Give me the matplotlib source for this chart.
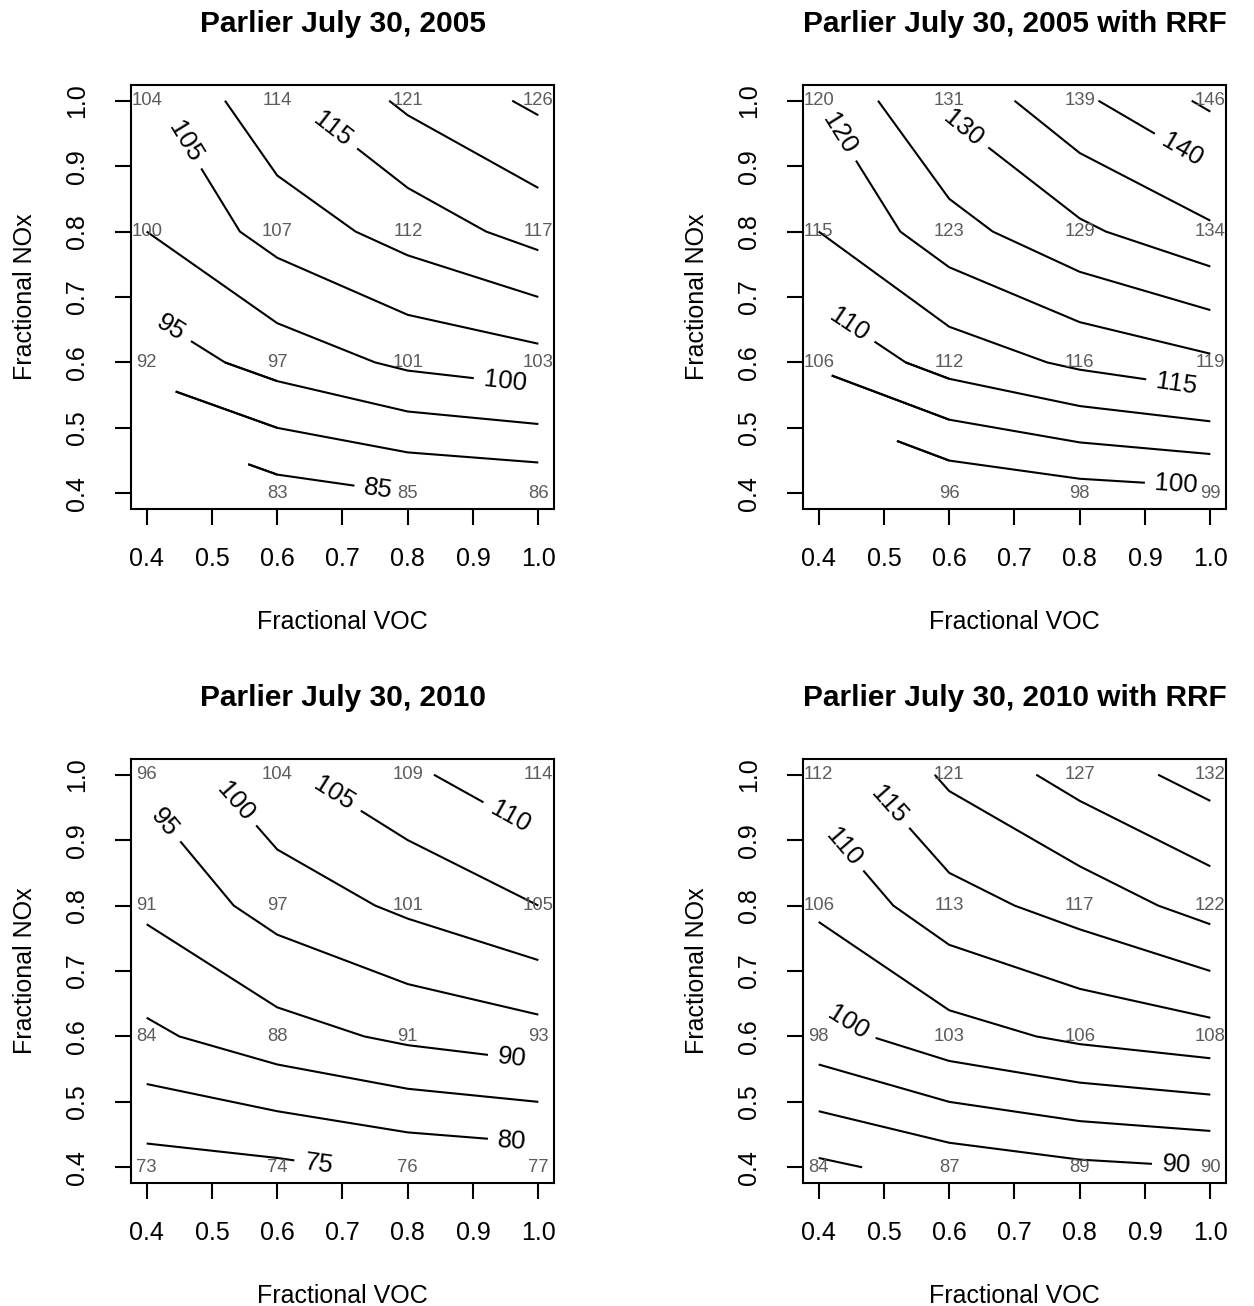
import numpy as np
import matplotlib
matplotlib.use("Agg")
import matplotlib.pyplot as plt
import matplotlib.tri as mtri
from matplotlib.path import Path

plt.rcParams['font.family'] = ['Liberation Sans', 'DejaVu Sans']

# grid
voc = [0.4, 0.6, 0.8, 1.0]
nox = [0.4, 0.6, 0.8, 1.0]

# values: rows = NOx (0.4 .. 1.0), cols = VOC (0.4 .. 1.0); nan = missing
z2005 = [[np.nan, 83, 85, 86],
         [92, 97, 101, 103],
         [100, 107, 112, 117],
         [104, 114, 121, 126]]
z2005_rrf = [[np.nan, 96, 98, 99],
             [106, 112, 116, 119],
             [115, 123, 129, 134],
             [120, 131, 139, 146]]
z2010 = [[73, 74, 76, 77],
         [84, 88, 91, 93],
         [91, 97, 101, 105],
         [96, 104, 109, 114]]
z2010_rrf = [[84, 87, 89, 90],
             [98, 103, 106, 108],
             [106, 113, 117, 122],
             [112, 121, 127, 132]]

titles = ["Parlier July 30, 2005", "Parlier July 30, 2005 with RRF",
          "Parlier July 30, 2010", "Parlier July 30, 2010 with RRF"]

levels_list = [list(range(85, 130, 5)), list(range(100, 150, 5)),
               list(range(75, 115, 5)), list(range(85, 135, 5))]

# labeled contour levels and approximate label positions
label_pos = [{105: (0.446, 0.93), 115: (0.673, 0.94), 95: (0.436, 0.652),
              100: (0.949, 0.569), 85: (0.755, 0.405)},
             {120: (0.428, 0.947), 130: (0.627, 0.965), 140: (0.956, 0.924),
              110: (0.444, 0.654), 115: (0.948, 0.566), 100: (0.948, 0.413)},
             {95: (0.428, 0.927), 100: (0.535, 0.958), 105: (0.686, 0.969),
              110: (0.957, 0.935), 90: (0.96, 0.568), 80: (0.96, 0.441),
              75: (0.663, 0.404)},
             {115: (0.501, 0.948), 110: (0.432, 0.884), 100: (0.452, 0.632),
              90: (0.948, 0.406)}]

data = [z2005, z2005_rrf, z2010, z2010_rrf]

W, H = 1254, 1306
fig = plt.figure(figsize=(W / 100, H / 100), dpi=100)

lefts = [131, 803, 131, 803]
tops = [85, 85, 759, 759]
aw, ah = 423, 424


def remove_stubs(ax, cs, minlen=30):
    paths = cs.get_paths()
    for k, p in enumerate(paths):
        if len(p.vertices) == 0:
            continue
        polys = p.to_polygons(closed_only=False)
        kept = []
        for poly in polys:
            d = ax.transData.transform(poly)
            length = np.sum(np.hypot(*np.diff(d, axis=0).T))
            if length >= minlen:
                kept.append(poly)
        if kept:
            paths[k] = Path.make_compound_path(*[Path(q) for q in kept])
        else:
            paths[k] = Path(np.zeros((0, 2)))


for i in range(4):
    ax = fig.add_axes([lefts[i] / W, 1 - (tops[i] + ah) / H, aw / W, ah / H])
    ax.set_xlim(0.376, 1.024)
    ax.set_ylim(0.376, 1.024)
    Z = np.array(data[i], dtype=float)
    X, Y = np.meshgrid(voc, nox)
    Zm = np.ma.masked_invalid(Z)
    for L in levels_list[i]:
        cs = ax.contour(X, Y, Zm, levels=[L], colors='black', linewidths=1.5)
        if L in label_pos[i]:
            cs.clabel([L], manual=[label_pos[i][L]], inline=True,
                      inline_spacing=10, fontsize=18.5, fmt='%d', colors='black')
            remove_stubs(ax, cs)
    # handle missing corner: triangle of the cell that has no missing value
    if np.isnan(Z[0, 0]):
        tri = mtri.Triangulation([voc[1], voc[1], voc[0]], [nox[0], nox[1], nox[1]], [[0, 1, 2]])
        zt = [Z[0, 1], Z[1, 1], Z[1, 0]]
        ax.tricontour(tri, zt, levels=levels_list[i], colors='black', linewidths=1.5)
    # grid values
    for r, yv in enumerate(nox):
        for c_, xv in enumerate(voc):
            v = Z[r, c_]
            if not np.isnan(v):
                ax.text(xv, yv, f"{int(v)}", ha='center', va='center',
                        fontsize=13.3, color='#5c5c5c')
    ax.set_xlim(0.376, 1.024)
    ax.set_ylim(0.376, 1.024)
    ax.set_xticks([0.4, 0.5, 0.6, 0.7, 0.8, 0.9, 1.0])
    ax.set_yticks([0.4, 0.5, 0.6, 0.7, 0.8, 0.9, 1.0])
    ax.set_xticklabels(["0.4", "0.5", "0.6", "0.7", "0.8", "0.9", "1.0"])
    ax.set_yticklabels(["0.4", "0.5", "0.6", "0.7", "0.8", "0.9", "1.0"],
                       rotation=90, va='center')
    ax.tick_params(axis='both', direction='out', length=11.5, width=1.5, labelsize=18)
    ax.tick_params(axis='x', pad=15.5)
    ax.tick_params(axis='y', pad=18.5)
    for s in ax.spines.values():
        s.set_linewidth(1.5)
    ax.text(0.5, -0.2665, "Fractional VOC", transform=ax.transAxes,
            ha='center', va='center', fontsize=18)
    ax.text(-0.25, 0.5, "Fractional NOx", transform=ax.transAxes,
            ha='center', va='center', fontsize=18, rotation=90)
    ax.text(0.5, 1.145, titles[i], transform=ax.transAxes, ha='center',
            va='center', fontsize=21.5, fontweight='bold')

fig.savefig("out.png", dpi=100)
